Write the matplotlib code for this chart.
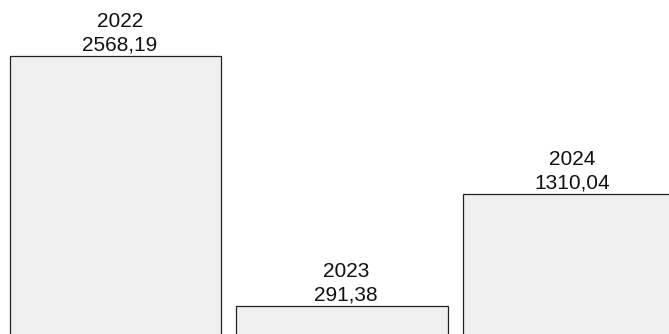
import matplotlib
matplotlib.use("Agg")
import matplotlib.pyplot as plt

# data
years = ["2022", "2023", "2024"]
values = [2568.19, 291.38, 1310.04]

plt.rcParams['font.family'] = ['Liberation Sans', 'DejaVu Sans']

fig = plt.figure(figsize=(6.69, 3.34), dpi=100)
ax = fig.add_axes([0, 0, 1, 1])

x = list(range(len(values)))
bars = ax.bar(x, values, width=0.934, color='#f0f0f0', edgecolor='#222222', linewidth=0.9)

for xi, year, v in zip(x, years, values):
    label = f"{year}\n{v:.2f}".replace('.', ',')
    ax.annotate(label, (xi, v), xytext=(3, 1), textcoords='offset points',
                ha='center', va='bottom', fontsize=15, color='#111111',
                linespacing=1.3)

# baseline sits a few px below the bottom edge, bars run off the figure
ax.set_xlim(-0.51, 2.444)
ax.set_ylim(36, 3078)
ax.axis('off')

fig.savefig("out.png", dpi=100, facecolor='white')
